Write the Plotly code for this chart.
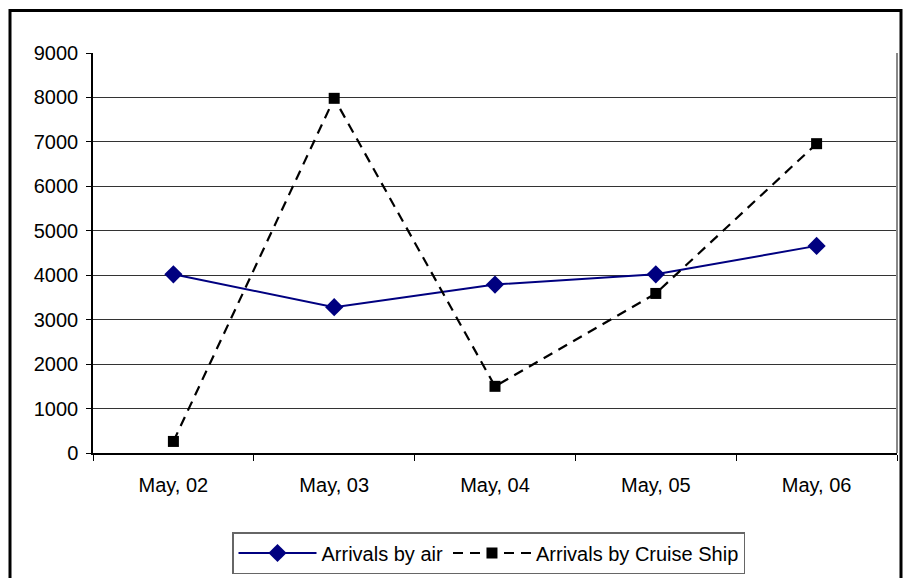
import plotly.graph_objects as go

categories = ["May, 02", "May, 03", "May, 04", "May, 05", "May, 06"]
air_arrivals = [4020, 3280, 3790, 4020, 4660]
cruise_arrivals = [260, 7980, 1500, 3590, 6960]
y_ticks = [0, 1000, 2000, 3000, 4000, 5000, 6000, 7000, 8000, 9000]

FONT = "Liberation Sans, Arial, sans-serif"

fig = go.Figure()
fig.add_trace(go.Scatter(
    x=categories, y=air_arrivals, name="Arrivals by air", mode="lines+markers",
    line=dict(color="#000080", width=2),
    marker=dict(symbol="diamond", size=14, color="#000080"),
))
fig.add_trace(go.Scatter(
    x=categories, y=cruise_arrivals, name="Arrivals by Cruise Ship", mode="lines+markers",
    line=dict(color="#000000", width=2.2, dash="10px,7px"),
    marker=dict(symbol="square", size=11, color="#000000"),
))

fig.update_layout(
    width=904, height=578,
    margin=dict(l=93, r=7, t=53, b=125, autoexpand=False),
    paper_bgcolor="white", plot_bgcolor="white",
    font=dict(family=FONT, size=20, color="#000000"),
    showlegend=True,
    legend=dict(
        orientation="h", x=(232 - 93) / 804, xanchor="left",
        y=(453 - 532) / 400, yanchor="top",
        bordercolor="#666666", borderwidth=1.5, bgcolor="white",
        itemwidth=78, font=dict(size=20, family=FONT),
    ),
    xaxis=dict(
        type="category", range=[-0.5, 4.5], tickson="boundaries",
        ticks="outside", ticklen=6,
        tickcolor="#000", showline=True, linecolor="#000", linewidth=1.5,
        showgrid=False, zeroline=False, tickfont=dict(size=20),
        ticklabelstandoff=13,
    ),
    yaxis=dict(
        range=[0, 9000], tickvals=y_ticks, ticks="outside", ticklen=5,
        tickcolor="#000", showline=True, linecolor="#000", linewidth=1.5,
        showgrid=True, gridcolor="#333333", gridwidth=1, zeroline=False,
        tickfont=dict(size=20), ticklabelstandoff=4,
    ),
    shapes=[
        dict(type="line", xref="paper", yref="paper", x0=1, x1=1, y0=0, y1=1,
             line=dict(color="#888888", width=2)),
        dict(type="rect", xref="paper", yref="paper",
             x0=(10 - 93) / 804, x1=(901 - 93) / 804,
             y0=(453 - 590) / 400, y1=(453 - 10.5) / 400,
             line=dict(color="#000000", width=3), fillcolor="rgba(0,0,0,0)"),
    ],
)

fig.write_html("out.html", config={"displayModeBar": False},
               post_script="document.body.style.margin='0';")
